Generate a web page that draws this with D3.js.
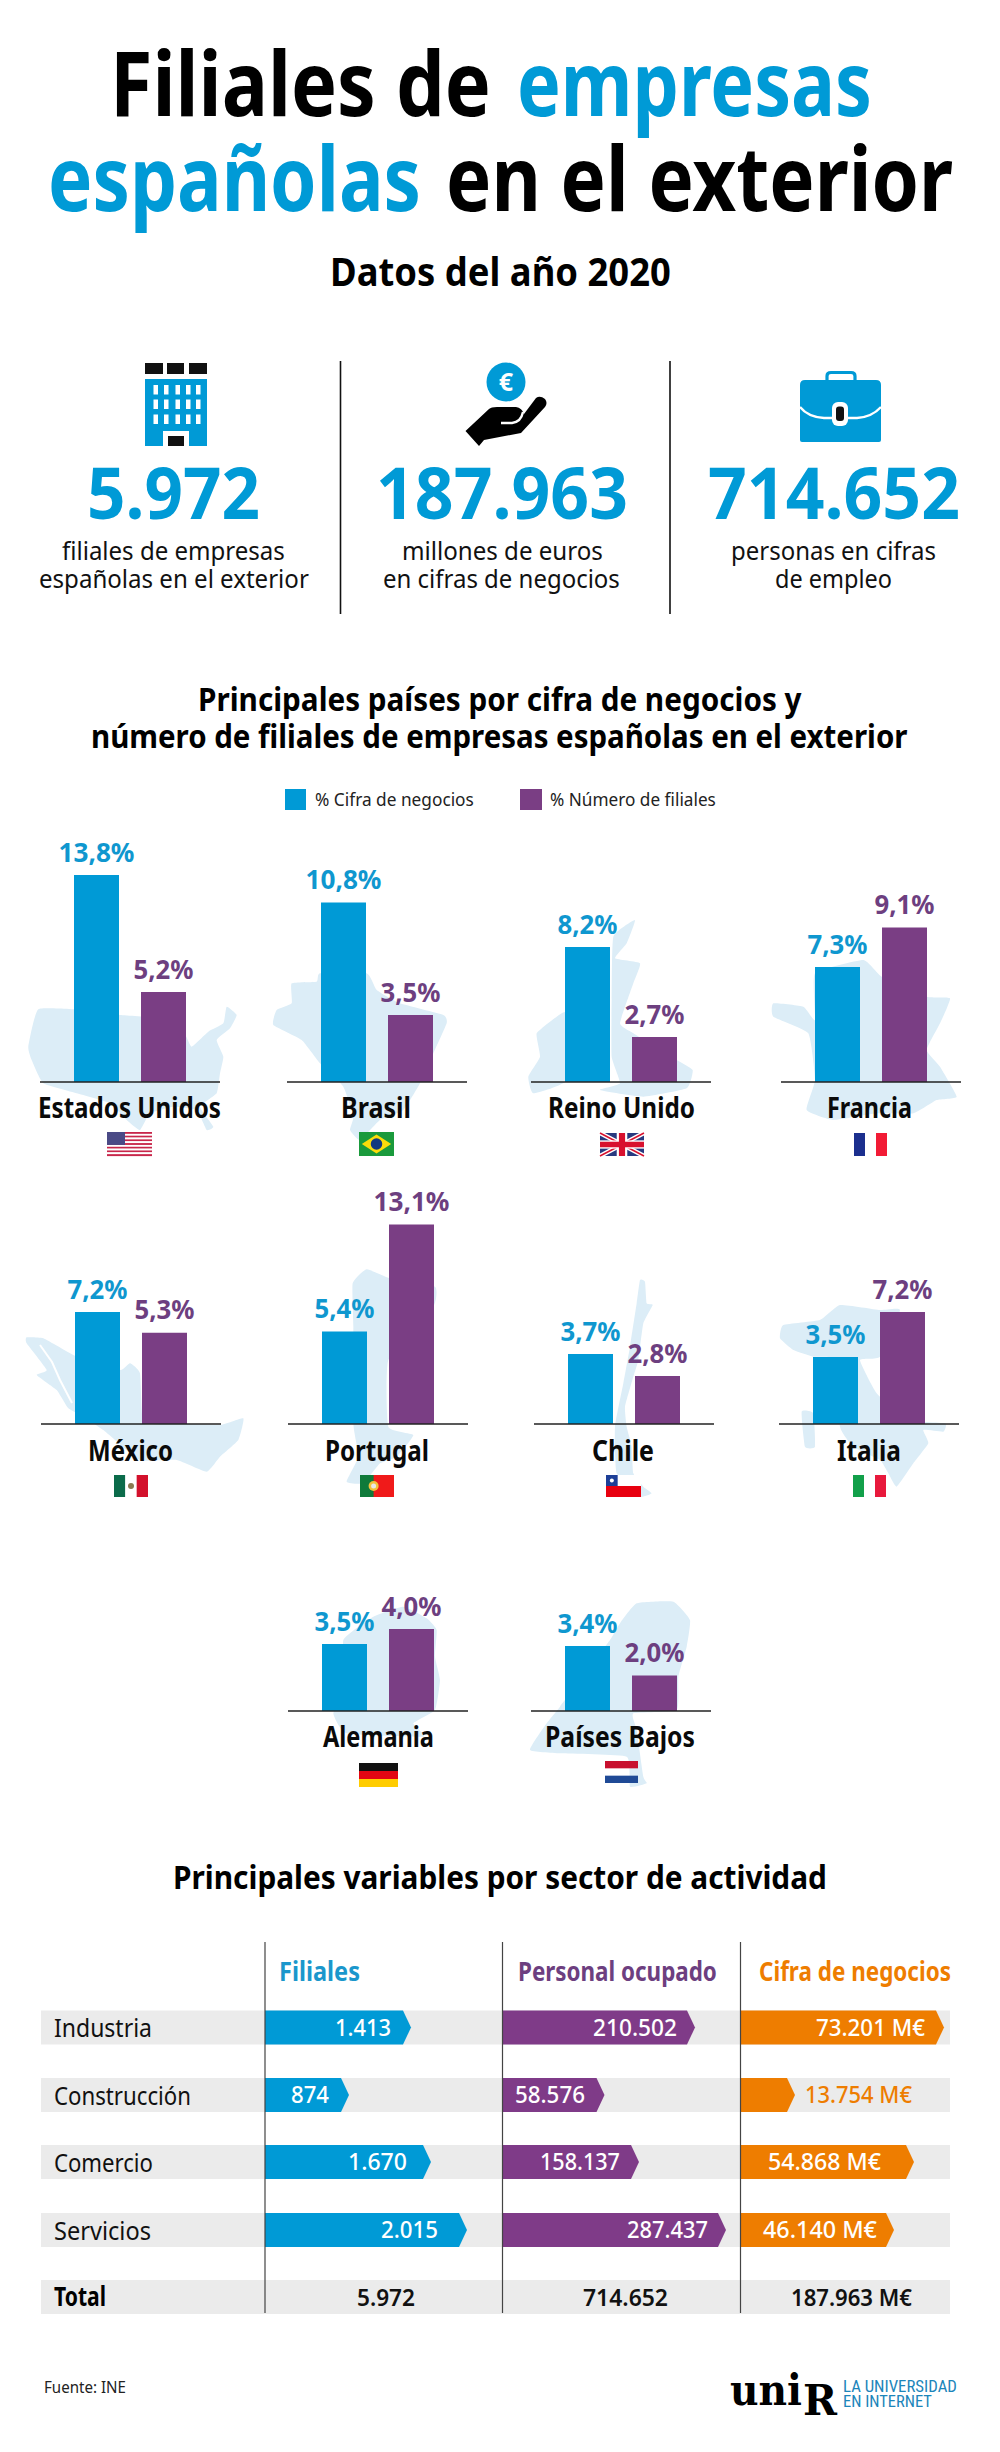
<!DOCTYPE html>
<html>
<head>
<meta charset="utf-8">
<script src="https://d3js.org/d3.v7.min.js"></script>
<style>
  body { margin: 0; background: #fff; }
  svg { display: block; }
  text { font-family: "Noto Sans", sans-serif; font-stretch: 75%; }
</style>
</head>
<body>
<svg id="chart" width="1000" height="2452"></svg>
<script>
/* data */
var countries = ["Estados Unidos", "Brasil", "Reino Unido", "Francia", "México", "Portugal", "Chile", "Italia", "Alemania", "Países Bajos"];
var cifraNegocios = [13.8, 10.8, 8.2, 7.3, 7.2, 5.4, 3.7, 3.5, 3.5, 3.4];
var numFiliales = [5.2, 3.5, 2.7, 9.1, 5.3, 13.1, 2.8, 7.2, 4.0, 2.0];

var sectors = ["Industria", "Construcción", "Comercio", "Servicios"];
var sectorFiliales = [1413, 874, 1670, 2015];
var sectorPersonal = [210502, 58576, 158137, 287437];
var sectorCifra = [73201, 13754, 54868, 46140];
var totals = [5972, 714652, 187963];

var statValues = [5972, 187963, 714652];
var legendLabels = ["% Cifra de negocios", "% Número de filiales"];

/* colours */
var BLUE = "#009ad6", PURPLE = "#7a3e84", PURPLE_TXT = "#6d3f80", ORANGE = "#ee7d00", MAP = "#dcedf7", BAND = "#ebebeb";

var es = d3.formatLocale({decimal: ",", thousands: ".", grouping: [3], currency: ["", ""]});
var fmtInt = es.format(",d");
var fmtPct = function(v) { return es.format(".1f")(v) + "%"; };

var svg = d3.select("#chart");

// text squeezed into a measured x range, the source face is a condensed one
function fit(parent, str, x0, x1, y, size, weight, fill, family) {
  var t = parent.append("text")
    .style("font-size", size + "px").style("font-weight", weight)
    .style("font-family", family || null)
    .attr("fill", fill || "#000")
    .text(str);
  var k = (x1 - x0) / t.node().getComputedTextLength();
  t.attr("transform", "translate(" + x0 + "," + y + ") scale(" + k + ",1)");
  return t;
}

/* heading */
fit(svg, "Filiales de", 110, 491, 116, 89, 700, "#000");
fit(svg, "empresas", 517, 872, 116, 89, 700, BLUE);
fit(svg, "españolas", 48, 421, 211, 89, 700, BLUE);
fit(svg, "en el exterior", 446, 953, 211, 89, 700, "#000");
fit(svg, "Datos del año 2020", 330, 671, 286, 39, 700, "#000");

/* stat block */
var statX = [[87, 260], [376, 628], [708, 960]];
statValues.forEach(function(v, i) {
  fit(svg, fmtInt(v), statX[i][0], statX[i][1], 519, 72, 700, BLUE);
});
var statLines = [
  [["filiales de empresas", 62, 285], ["españolas en el exterior", 39, 309]],
  [["millones de euros", 402, 603], ["en cifras de negocios", 383, 620]],
  [["personas en cifras", 731, 936], ["de empleo", 775, 892]]
];
statLines.forEach(function(lines) {
  fit(svg, lines[0][0], lines[0][1], lines[0][2], 560, 25, 400, "#111");
  fit(svg, lines[1][0], lines[1][1], lines[1][2], 588, 25, 400, "#111");
});
[340.5, 670].forEach(function(x) {
  svg.append("line").attr("x1", x).attr("x2", x).attr("y1", 361).attr("y2", 614)
    .attr("stroke", "#111").attr("stroke-width", 1.6);
});

// building icon
var bld = svg.append("g");
[[145, 18], [167, 17], [189, 18]].forEach(function(b) {
  bld.append("rect").attr("x", b[0]).attr("y", 363).attr("width", b[1]).attr("height", 11).attr("fill", "#111");
});
bld.append("rect").attr("x", 145).attr("y", 379).attr("width", 62).attr("height", 67).attr("fill", BLUE);
[385, 399.5, 414.5].forEach(function(wy) {
  [153.5, 164, 175.5, 186, 196].forEach(function(wx) {
    bld.append("rect").attr("x", wx).attr("y", wy).attr("width", 4.5).attr("height", 9.5).attr("fill", "#fff");
  });
});
bld.append("rect").attr("x", 163).attr("y", 431).attr("width", 26).attr("height", 15).attr("fill", "#fff");
bld.append("rect").attr("x", 168).attr("y", 436).attr("width", 16).attr("height", 10).attr("fill", "#111");

// hand with coin
var hand = svg.append("g");
hand.append("circle").attr("cx", 506).attr("cy", 382).attr("r", 19.5).attr("fill", BLUE);
hand.append("text").attr("x", 506).attr("y", 391).attr("text-anchor", "middle").attr("fill", "#fff")
  .style("font-size", "25px").style("font-weight", 700).text("€");
hand.append("path").attr("fill", "#000")
  .attr("d", "M465.5 431 L489 409 Q491 407 497 407 L516 407 Q522 408 524 414 L536 398 Q540 395 545 399 Q548 403 545 407 L521 433 L484 440 L479 446 Z");
hand.append("path").attr("fill", "none").attr("stroke", "#fff").attr("stroke-width", 2.4)
  .attr("d", "M501 423 L512 423 Q521 422 523 412");

// briefcase
var bag = svg.append("g");
bag.append("path").attr("fill", "none").attr("stroke", BLUE).attr("stroke-width", 3.2)
  .attr("d", "M827 381 L827 376 Q827 372.5 831 372.5 L851 372.5 Q855 372.5 855 376 L855 381");
bag.append("path").attr("fill", BLUE)
  .attr("d", "M805 380 L876 380 Q881 380 881 385 L881 440 Q881 442 879 442 L802 442 Q800 442 800 440 L800 385 Q800 380 805 380 Z");
bag.append("path").attr("fill", "none").attr("stroke", "#fff").attr("stroke-width", 2.4)
  .attr("d", "M800 407 Q808 417 824 418 L857 418 Q872 417 881 407");
bag.append("rect").attr("x", 832).attr("y", 402).attr("width", 16).attr("height", 24).attr("rx", 6).attr("fill", "#fff");
bag.append("rect").attr("x", 836).attr("y", 406.5).attr("width", 8).attr("height", 14.5).attr("rx", 3).attr("fill", "#111");

/* countries section */
fit(svg, "Principales países por cifra de negocios y", 198, 802, 711, 33, 700, "#000");
fit(svg, "número de filiales de empresas españolas en el exterior", 91, 908, 748, 33, 700, "#000");

svg.append("rect").attr("x", 285).attr("y", 789).attr("width", 21).attr("height", 21).attr("fill", BLUE);
fit(svg, legendLabels[0], 315, 474, 806, 19, 400, "#222");
svg.append("rect").attr("x", 520).attr("y", 789).attr("width", 22).attr("height", 21).attr("fill", PURPLE);
fit(svg, legendLabels[1], 550, 716, 806, 19, 400, "#222");

// the bars of the source are not drawn strictly to scale, so the height scale has knots
var barHeight = d3.scaleLinear()
  .domain([0, 2, 2.7, 2.8, 3.4, 3.5, 3.7, 4, 5.2, 5.4, 7.2, 7.3, 8.2, 9.1, 10.8, 13.1, 13.8])
  .range([0, 35.5, 45, 48, 65, 67, 70, 82, 90, 92.5, 112, 115, 135, 154.5, 179.5, 199.5, 207]);

// layout per country
var axisStart = [40, 287, 531, 781, 41, 288, 534, 779, 288, 531];
var axisY = [1082, 1082, 1082, 1082, 1424, 1424, 1424, 1424, 1711, 1711];
var nameX = [[38, 221], [341, 411], [548, 695], [827, 912], [88, 173], [325, 429], [592, 654], [837, 901], [323, 434], [545, 695]];
var nameY = [1118, 1118, 1118, 1118, 1461, 1461, 1461, 1461, 1747, 1747];
var flagBox = [[107, 1132, 45, 24], [359, 1132, 35, 24], [600, 1133, 44, 23], [854, 1133, 33, 23], [114, 1475, 34, 22],
  [360, 1475, 34, 22], [606, 1475, 35, 22], [853, 1475, 33, 22], [359, 1763, 39, 24], [605, 1761, 33, 22]];

var maps = [
  [0, 960, [[115,148],[250,150],[360,165],[480,175],[555,225],[575,260],[625,215],[670,190],[680,140],[710,165],[690,205],[650,240],[670,290],[660,340],[650,400],[600,440],[640,500],[620,510],[590,450],[520,440],[450,460],[420,510],[380,480],[330,430],[230,400],[130,370],[95,300],[85,260]]],
  [0, 960, [[875,70],[950,65],[960,40],[1100,40],[1130,90],[1200,130],[1330,165],[1340,190],[1300,280],[1260,370],[1210,450],[1140,480],[1080,540],[1050,510],[1060,470],[1030,380],[960,310],[905,240],[820,195],[830,150],[875,130]]],
  [500, 900, [[340,110],[405,60],[380,130],[345,175],[420,190],[400,250],[360,370],[400,400],[530,480],[578,510],[560,565],[430,590],[300,570],[360,550],[335,470],[335,300]]],
  [500, 900, [[110,400],[170,350],[200,340],[200,540],[100,580],[85,530],[120,470]]],
  [500, 900, [[820,310],[910,320],[945,360],[945,220],[1090,180],[1145,230],[1280,290],[1350,295],[1320,370],[1280,450],[1320,500],[1370,590],[1310,600],[1240,640],[1130,640],[1000,660],[920,630],[945,540],[925,400],[820,350]]],
  [0, 1260, [[80,232],[130,235],[230,290],[360,330],[390,310],[420,340],[430,490],[510,490],[660,495],[730,475],[715,540],[660,590],[620,635],[530,600],[420,600],[310,510],[250,470],[205,445],[170,390],[110,345],[140,330],[80,250]]],
  [0, 1260, [[1058,70],[1100,28],[1170,55],[1305,80],[1300,140],[1165,300],[1165,500],[1240,525],[1190,590],[1140,610],[1090,670],[1040,665],[1075,590],[1060,490],[1060,200]]],
  [500, 1260, [[420,60],[435,65],[440,130],[458,135],[430,190],[415,300],[400,350],[375,440],[380,500],[395,560],[400,640],[430,680],[455,700],[420,710],[350,640],[345,500],[370,370],[390,260],[410,130]]],
  [500, 1260, [[850,195],[960,180],[1020,135],[1140,150],[1200,150],[1140,290],[1080,300],[1130,400],[1220,480],[1335,490],[1330,515],[1270,510],[1285,550],[1240,610],[1190,680],[1165,640],[1140,600],[1060,560],[1020,500],[1010,300],[940,290],[880,270],[840,235]]],
  [500, 1260, [[905,455],[940,460],[945,560],[915,560]]],
  [280, 1590, [[280,80],[370,50],[440,85],[470,120],[465,200],[480,270],[465,360],[400,400],[430,440],[200,430],[160,370],[200,300],[190,150]]],
  [280, 1590, [[1020,100],[1070,40],[1180,35],[1230,90],[1220,170],[1195,260],[1190,360],[1060,370],[1070,420],[1090,560],[1100,580],[1050,590],[1040,500],[840,490],[750,480],[800,400],[840,350],[990,150]]]
];
var mapLine = d3.line().curve(d3.curveCardinalClosed.tension(0.6));
maps.forEach(function(m) {
  svg.append("path").attr("fill", MAP)
    .attr("d", mapLine(m[2].map(function(p) { return [m[0] + p[0] / 3, m[1] + p[1] / 3]; })));
});
// gulf of California
svg.append("path").attr("fill", "none").attr("stroke", "#fff").attr("stroke-width", 2)
  .attr("d", d3.line()([[40, 1345], [52, 1362], [60, 1380], [72, 1403]]));

var flags = [
  function(g, w, h) {
    d3.range(13).forEach(function(i) {
      g.append("rect").attr("y", i * h / 13).attr("width", w).attr("height", h / 13 + 0.1).attr("fill", i % 2 ? "#fff" : "#c8264a");
    });
    g.append("rect").attr("width", w * 0.4).attr("height", h * 7 / 13).attr("fill", "#4a4a86");
  },
  function(g, w, h) {
    g.append("rect").attr("width", w).attr("height", h).attr("fill", "#1a9a3c");
    g.append("path").attr("fill", "#fbdc0a").attr("d", d3.line()([[w * 0.08, h / 2], [w / 2, h * 0.1], [w * 0.92, h / 2], [w / 2, h * 0.9]]) + "Z");
    g.append("circle").attr("cx", w / 2).attr("cy", h / 2).attr("r", h * 0.24).attr("fill", "#12397f");
  },
  function(g, w, h) {
    g.append("rect").attr("width", w).attr("height", h).attr("fill", "#27397f");
    [[0, 0, w, h], [w, 0, 0, h]].forEach(function(l) {
      g.append("line").attr("x1", l[0]).attr("y1", l[1]).attr("x2", l[2]).attr("y2", l[3]).attr("stroke", "#fff").attr("stroke-width", 4.5);
      g.append("line").attr("x1", l[0]).attr("y1", l[1]).attr("x2", l[2]).attr("y2", l[3]).attr("stroke", "#d8112e").attr("stroke-width", 1.5);
    });
    g.append("rect").attr("x", w * 0.38).attr("width", w * 0.24).attr("height", h).attr("fill", "#fff");
    g.append("rect").attr("y", h * 0.32).attr("width", w).attr("height", h * 0.36).attr("fill", "#fff");
    g.append("rect").attr("x", w * 0.43).attr("width", w * 0.14).attr("height", h).attr("fill", "#d8112e");
    g.append("rect").attr("y", h * 0.38).attr("width", w).attr("height", h * 0.24).attr("fill", "#d8112e");
  },
  function(g, w, h) { tri(g, w, h, "#1b2f8e", "#fff", "#f21b35"); },
  function(g, w, h) {
    tri(g, w, h, "#0b6b4a", "#fff", "#d3112c");
    g.append("circle").attr("cx", w / 2).attr("cy", h / 2).attr("r", 3).attr("fill", "#8a7a50");
  },
  function(g, w, h) {
    g.append("rect").attr("width", w).attr("height", h).attr("fill", "#f01a1a");
    g.append("rect").attr("width", w * 0.4).attr("height", h).attr("fill", "#0f7a3a");
    g.append("circle").attr("cx", w * 0.4).attr("cy", h / 2).attr("r", 5).attr("fill", "#f3c23c");
    g.append("circle").attr("cx", w * 0.4).attr("cy", h / 2).attr("r", 2.5).attr("fill", "#e8e8e8");
  },
  function(g, w, h) {
    g.append("rect").attr("width", w).attr("height", h).attr("fill", "#fff");
    g.append("rect").attr("y", h / 2).attr("width", w).attr("height", h / 2).attr("fill", "#e8000f");
    g.append("rect").attr("width", w / 3).attr("height", h / 2).attr("fill", "#1d3f97");
    g.append("circle").attr("cx", w / 6).attr("cy", h / 4).attr("r", 2).attr("fill", "#fff");
  },
  function(g, w, h) { tri(g, w, h, "#12a04a", "#fff", "#e8193c"); },
  function(g, w, h) {
    g.append("rect").attr("width", w).attr("height", h / 3 + 0.2).attr("fill", "#111");
    g.append("rect").attr("y", h / 3).attr("width", w).attr("height", h / 3 + 0.2).attr("fill", "#e30613");
    g.append("rect").attr("y", h * 2 / 3).attr("width", w).attr("height", h / 3).attr("fill", "#ffcc00");
  },
  function(g, w, h) {
    g.append("rect").attr("width", w).attr("height", h / 3).attr("fill", "#c8102e");
    g.append("rect").attr("y", h * 2 / 3).attr("width", w).attr("height", h / 3).attr("fill", "#1f4a96");
  }
];
function tri(g, w, h, a, b, c) {
  [a, b, c].forEach(function(col, i) {
    g.append("rect").attr("x", i * w / 3).attr("width", w / 3).attr("height", h).attr("fill", col);
  });
}

var barSeries = [
  {values: cifraNegocios, fill: BLUE, text: "#0f97cf", band: "cifra"},
  {values: numFiliales, fill: PURPLE, text: PURPLE_TXT, band: "filiales"}
];

countries.forEach(function(name, i) {
  var g = svg.append("g");
  var x = d3.scaleBand().domain(["cifra", "filiales"])
    .range([axisStart[i] + 34, axisStart[i] + 146]).paddingInner(22 / 67);

  barSeries.forEach(function(s) {
    var v = s.values[i], h = barHeight(v), top = axisY[i] - h;
    g.append("rect").attr("x", x(s.band)).attr("y", top)
      .attr("width", x.bandwidth()).attr("height", h).attr("fill", s.fill);
    var label = fmtPct(v), w = v >= 10 ? 76 : 60, cx = x(s.band) + x.bandwidth() / 2;
    fit(g, label, cx - w / 2, cx + w / 2, top - 13.5, 27, 700, s.text);
  });
  g.append("line").attr("x1", axisStart[i]).attr("x2", axisStart[i] + 180)
    .attr("y1", axisY[i]).attr("y2", axisY[i]).attr("stroke", "#222").attr("stroke-width", 1.6);

  fit(g, name, nameX[i][0], nameX[i][1], nameY[i], 28, 700, "#0a0a0a");

  var box = flagBox[i];
  flags[i](g.append("g").attr("transform", "translate(" + box[0] + "," + box[1] + ")"), box[2], box[3]);
});

/* sector table */
fit(svg, "Principales variables por sector de actividad", 173, 827, 1889, 33, 700, "#000");

var bandTop = [2010.5, 2078, 2145, 2213, 2280];
var bandHeight = 34;
var tipDepth = 8;

bandTop.forEach(function(y) {
  svg.append("rect").attr("x", 41).attr("y", y).attr("width", 909).attr("height", bandHeight).attr("fill", BAND);
});

// the arrows are not strictly proportional either, one knotted scale per column
var columns = [
  {title: "Filiales", titleX: [279, 360], fill: BLUE, head: "#1b97cc", values: sectorFiliales, suffix: "", start: 265,
    scale: d3.scaleLinear().domain([0, 874, 1413, 1670, 2015]).range([265, 349, 411, 431, 467]),
    labels: [[335, 391], [291, 329], [348, 407], [381, 438]], total: [357, 415]},
  {title: "Personal ocupado", titleX: [518, 717], fill: "#7f3b88", head: PURPLE_TXT, values: sectorPersonal, suffix: "", start: 502.5,
    scale: d3.scaleLinear().domain([0, 58576, 158137, 210502, 287437]).range([502.5, 604.5, 639, 695, 726]),
    labels: [[593, 677], [515, 585], [540, 620], [627, 708]], total: [583, 668]},
  {title: "Cifra de negocios", titleX: [759, 951], fill: ORANGE, head: ORANGE, values: sectorCifra, suffix: " M€", start: 740.5,
    scale: d3.scaleLinear().domain([0, 13754, 46140, 54868, 73201]).range([740.5, 795, 894, 914, 944]),
    labels: [[816, 925], [805, 912], [768, 881], [763, 877]], total: [791, 912]}
];

columns.forEach(function(c, ci) {
  fit(svg, c.title, c.titleX[0], c.titleX[1], 1980.5, 27, 700, c.head);

  c.values.forEach(function(v, i) {
    var tip = c.scale(v), y0 = bandTop[i], y1 = y0 + bandHeight;
    svg.append("path").attr("fill", c.fill)
      .attr("d", d3.line()([[c.start, y0], [tip - tipDepth, y0], [tip, (y0 + y1) / 2], [tip - tipDepth, y1], [c.start, y1]]) + "Z");
    var outside = c.labels[i][0] >= tip;
    fit(svg, fmtInt(v) + c.suffix, c.labels[i][0], c.labels[i][1], y0 + 25, 23, 500, outside ? c.fill : "#fff");
  });

  fit(svg, fmtInt(totals[ci]) + c.suffix, c.total[0], c.total[1], 2305.5, 23, 600, "#111");

  svg.append("line").attr("x1", c.start).attr("x2", c.start).attr("y1", 1942).attr("y2", 2313)
    .attr("stroke", "#444").attr("stroke-width", 1.2);
});

var sectorLabelX = [152, 191, 153, 151];
sectors.forEach(function(s, i) {
  fit(svg, s, 54, sectorLabelX[i], bandTop[i] + 26.5, 26, 400, "#111");
});
fit(svg, "Total", 54, 106, 2306, 26, 700, "#000");

/* footer */
fit(svg, "Fuente: INE", 44, 126, 2393, 17, 400, "#222");
fit(svg, "uni", 730, 802, 2405, 42, 700, "#000", "'DejaVu Serif'");
fit(svg, "R", 803, 837, 2415, 42, 700, "#000", "'DejaVu Serif'");
fit(svg, "LA UNIVERSIDAD", 843, 957, 2392, 16, 400, "#1c85ba", "Roboto");
fit(svg, "EN INTERNET", 843, 932, 2407, 16, 400, "#1c85ba", "Roboto");
</script>
</body>
</html>
